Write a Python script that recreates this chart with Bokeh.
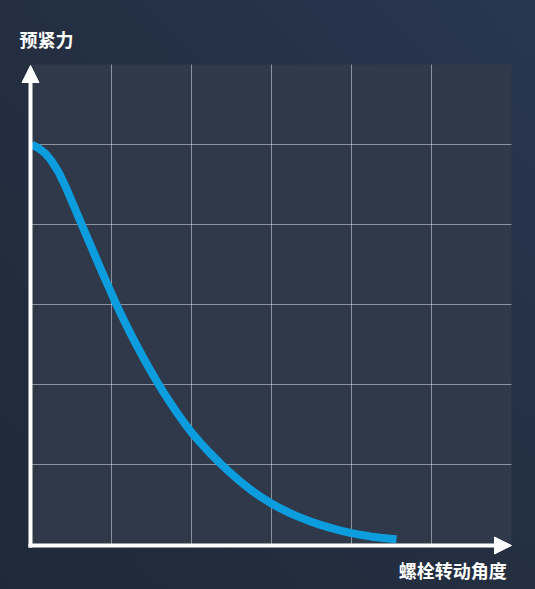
from bokeh.plotting import figure
from bokeh.models import Arrow, NormalHead, Label, FixedTicker, Range1d, BoxAnnotation, Grid
from bokeh.embed import file_html
from bokeh.resources import INLINE

# ---- data ----
angle = [0.0, 0.0875, 0.171, 0.254, 0.3375, 0.421, 0.504, 0.5875, 0.65,
         0.734, 0.816, 0.9, 0.984, 1.054, 1.154, 1.2375, 1.321, 1.404,
         1.4875, 1.571, 1.654, 1.7375, 1.821, 1.904, 2.009, 2.1125, 2.2375,
         2.3625, 2.4875, 2.6125, 2.7375, 2.8625, 2.9875, 3.1125, 3.2375,
         3.3625, 3.4875, 3.6125, 3.7375, 3.8625, 3.9875, 4.1125, 4.2375,
         4.3625, 4.4875, 4.5625]
preload = [5.0, 4.955, 4.89, 4.79, 4.655, 4.485, 4.29, 4.095, 3.947,
           3.752, 3.558, 3.365, 3.175, 3.015, 2.805, 2.638, 2.477, 2.323,
           2.174, 2.031, 1.896, 1.767, 1.644, 1.528, 1.39, 1.27, 1.135,
           1.01, 0.893, 0.785, 0.686, 0.598, 0.52, 0.451, 0.39,
           0.336, 0.288, 0.245, 0.207, 0.174, 0.145, 0.121, 0.101,
           0.085, 0.072, 0.065]
grid_ticks = [1, 2, 3, 4, 5]
axis_min = 0
axis_max = 6
y_label = "预紧力"
x_label = "螺栓转动角度"

FONT = "Noto Sans CJK SC"
PX = 80.0  # pixels per data unit

p = figure(width=535, height=589, title=None, toolbar_location=None,
           output_backend="svg",
           x_range=Range1d(-31 / PX, 504 / PX), y_range=Range1d(-45 / PX, 544 / PX),
           min_border_left=0, min_border_right=0,
           min_border_top=0, min_border_bottom=0)
p.xaxis.visible = False
p.yaxis.visible = False
p.outline_line_color = None
p.border_fill_alpha = 0
p.background_fill_alpha = 0

# plot area
p.add_layout(BoxAnnotation(left=axis_min - 3 / PX, right=axis_max,
                           bottom=axis_min - 3 / PX, top=axis_max,
                           fill_color="#2f394a", fill_alpha=1,
                           line_color=None, level="image"))

has_cross = "cross_bounds" in Grid.properties()
p.xgrid.ticker = FixedTicker(ticks=grid_ticks)
p.ygrid.ticker = FixedTicker(ticks=grid_ticks)
for g in (p.xgrid, p.ygrid):
    g.grid_line_color = "#ffffff"
    g.grid_line_alpha = 0.45
    g.grid_line_width = 1
    if has_cross:
        g.cross_bounds = (axis_min, axis_max)
if not has_cross:
    p.xgrid.visible = False
    p.ygrid.visible = False
    p.segment(x0=grid_ticks, y0=[axis_min] * len(grid_ticks),
              x1=grid_ticks, y1=[axis_max] * len(grid_ticks),
              line_color="#ffffff", line_alpha=0.45, line_width=1)
    p.segment(x0=[axis_min] * len(grid_ticks), y0=grid_ticks,
              x1=[axis_max] * len(grid_ticks), y1=grid_ticks,
              line_color="#ffffff", line_alpha=0.45, line_width=1)

p.line(angle, preload, line_width=8, line_color="#0b9ddd",
       line_cap="butt", line_join="round")

# axes with arrow heads
off = 1 / PX
p.add_layout(Arrow(end=NormalHead(size=17, fill_color="white", line_color="white", line_width=1),
                   x_start=axis_min - off, y_start=axis_min - 3 * off,
                   x_end=axis_min - off, y_end=axis_max - off,
                   line_color="white", line_width=4))
p.add_layout(Arrow(end=NormalHead(size=17, fill_color="white", line_color="white", line_width=1),
                   x_start=axis_min - 3 * off, y_start=axis_min - off,
                   x_end=axis_max, y_end=axis_min - off,
                   line_color="white", line_width=4))

p.add_layout(Label(x=-0.15, y=6.325, text=y_label, text_font=FONT,
                   text_font_style="bold", text_font_size="18px",
                   text_color="white", text_align="left", text_baseline="middle"))
p.add_layout(Label(x=5.94, y=-0.3125, text=x_label, text_font=FONT,
                   text_font_style="bold", text_font_size="18px",
                   text_color="white", text_align="right", text_baseline="middle"))

html = file_html(p, INLINE)
style = ("<style>html,body{background:#222c3e;}"
         "body{background:linear-gradient(to top right,#1f2939 0%,#232e40 45%,#283650 100%);}"
         "</style>")
html = html.replace("</head>", style + "</head>", 1)
open("out.html", "w").write(html)
